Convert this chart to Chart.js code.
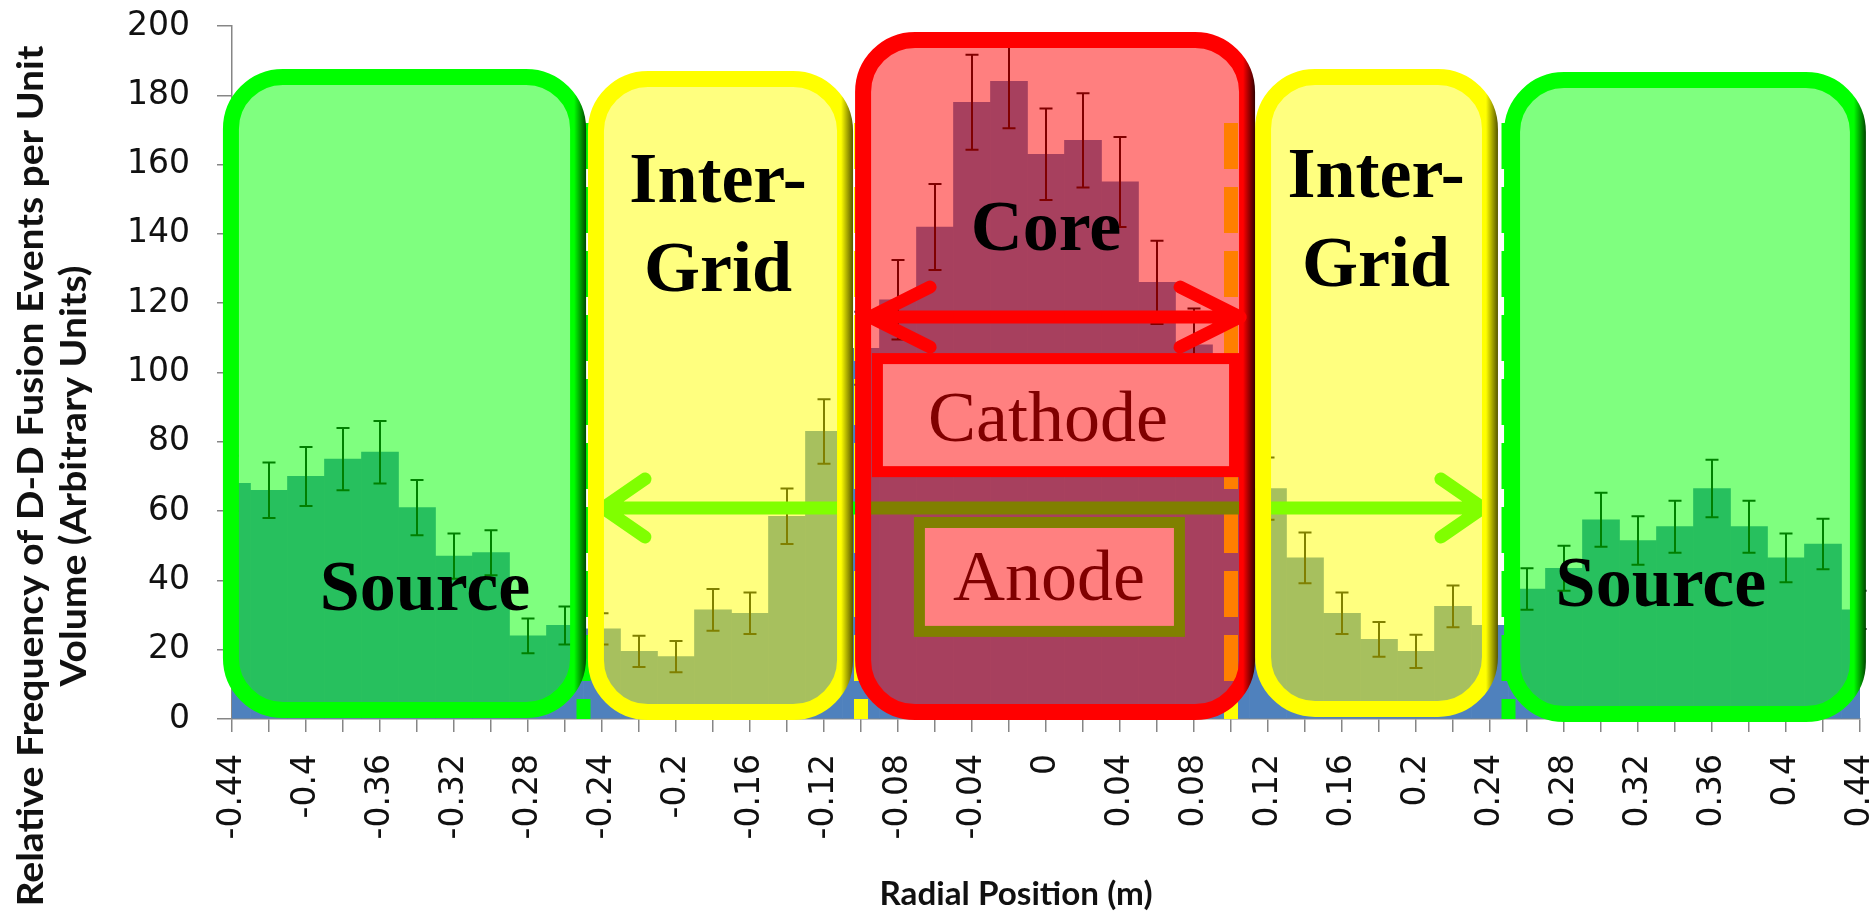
<!DOCTYPE html>
<html>
<head>
<meta charset="utf-8">
<script src="https://cdn.jsdelivr.net/npm/chart.js@4.4.0/dist/chart.umd.min.js"></script>
<style>
html, body { margin: 0; padding: 0; background: #fff; }
</style>
</head>
<body>
<canvas id="chart-area" width="1876" height="913"></canvas>
<script>
// bin centres (m)
var radii = [-0.44, -0.42, -0.40, -0.38, -0.36, -0.34, -0.32, -0.30, -0.28, -0.26,
             -0.24, -0.22, -0.20, -0.18, -0.16, -0.14, -0.12, -0.10, -0.08, -0.06,
             -0.04, -0.02, 0, 0.02, 0.04, 0.06, 0.08, 0.10, 0.12, 0.14,
             0.16, 0.18, 0.20, 0.22, 0.24, 0.26, 0.28, 0.30, 0.32, 0.34,
             0.36, 0.38, 0.40, 0.42, 0.44];
// relative frequency per bin
var counts = [68, 66, 70, 75, 77, 61, 47, 48, 24, 27,
              26, 19.5, 18, 31.5, 30.5, 58.5, 83, 107, 121, 142,
              178, 184, 163, 167, 155, 126, 108, 90, 66.5, 46.5,
              30.5, 23, 19.5, 32.5, 27, 37.5, 43.5, 57.5, 51.5, 55.5,
              66.5, 55.5, 46.5, 50.5, 31.5];
// +/- error per bin
var errors = [8, 8, 8.5, 9, 9, 8, 6.5, 6.5, 5, 5.5,
              4.5, 4.5, 4.5, 6, 6, 8, 9.3, 10.5, 11.5, 12.4,
              13.7, 13.5, 13.2, 13.6, 13, 12, 10.5, 9.5, 9, 7.3,
              6, 5, 4.8, 6, 5, 6, 6.5, 7.8, 7, 7.5,
              8.3, 7.5, 7, 7.3, 5.5];
var yMin = 0, yMax = 200, yStep = 20;

// dashed grid radius markers
var markerRadii = [-0.25, -0.10, 0.10, 0.25];
var markerColors = ['#00ff00', '#ffff00', '#ffff00', '#00ff00'];
var markerTop = 172;

// region overlays, in data units
var zones = [
    {x: [-0.4449, -0.2486], y: [0.3, 187.6], fill: 'rgba(0,255,0,0.5)', edge: '#00ff00', shade: '#004400'},
    {x: [0.2476, 0.4432], y: [-0.9, 186.7], fill: 'rgba(0,255,0,0.5)', edge: '#00ff00', shade: '#004400'},
    {x: [-0.2476, -0.1043], y: [-0.3, 187.0], fill: 'rgba(255,255,0,0.5)', edge: '#ffff00', shade: '#555500'},
    {x: [0.1130, 0.2443], y: [0.6, 187.6], fill: 'rgba(255,255,0,0.5)', edge: '#ffff00', shade: '#555500'},
    {x: [-0.1032, 0.1130], y: [-0.3, 198.3], fill: 'rgba(255,0,0,0.5)', edge: '#ff0000', shade: '#330000'}
];
var gridArrow = {x: [-0.2395, 0.2362], y: 60.9, color: '#00ff00', head: [42, 29]};
var cathodeArrow = {x: [-0.0951, 0.1049], y: 116.0, color: '#ff0000', head: [60, 30]};
var plates = [
    {text: 'Cathode', x: [-0.0941, 0.1049], y: [69.8, 105.6], edge: '#ff0000', tx: 0.0011, ty: 80.2},
    {text: 'Anode', x: [-0.0714, 0.0751], y: [23.7, 58.3], edge: '#808000', tx: 0.0016, ty: 34.3}
];
var regionLabels = [
    {lines: ['Source'], x: -0.3357, y: 31.5},
    {lines: ['Source'], x: 0.3324, y: 32.6},
    {lines: ['Inter-', 'Grid'], x: -0.1773, y: 149.2},
    {lines: ['Inter-', 'Grid'], x: 0.1784, y: 150.6},
    {lines: ['Core'], x: 0, y: 135.4}
];
var yTitle = ['Relative Frequency of D-D Fusion Events per Unit', 'Volume (Arbitrary Units)'];
var xTitle = 'Radial Position (m)';

var fmt = function (v) {
    return String(parseFloat(v.toFixed(2)));
};

var roundRect = function (ctx, x0, y0, x1, y1, r) {
    ctx.beginPath();
    ctx.moveTo(x0 + r, y0);
    ctx.arcTo(x1, y0, x1, y1, r);
    ctx.arcTo(x1, y1, x0, y1, r);
    ctx.arcTo(x0, y1, x0, y0, r);
    ctx.arcTo(x0, y0, x1, y0, r);
    ctx.closePath();
};

var edgeGradient = function (ctx, x0, x1, edge, shade, band) {
    var g = ctx.createLinearGradient(x0, 0, x1, 0);
    g.addColorStop(0, edge);
    g.addColorStop(Math.max(0, 1 - band / (x1 - x0)), edge);
    g.addColorStop(1, shade);
    return g;
};

var drawArrow = function (ctx, a, xs, ys) {
    var xl = xs.getPixelForValue(a.x[0]), xr = xs.getPixelForValue(a.x[1]);
    var y = ys.getPixelForValue(a.y);
    ctx.save();
    ctx.strokeStyle = a.color;
    ctx.lineWidth = 13;
    ctx.lineCap = 'round';
    ctx.lineJoin = 'round';
    ctx.beginPath();
    ctx.moveTo(xl, y); ctx.lineTo(xr, y);
    ctx.moveTo(xl + a.head[0], y - a.head[1]); ctx.lineTo(xl, y); ctx.lineTo(xl + a.head[0], y + a.head[1]);
    ctx.moveTo(xr - a.head[0], y - a.head[1]); ctx.lineTo(xr, y); ctx.lineTo(xr - a.head[0], y + a.head[1]);
    ctx.stroke();
    ctx.restore();
};

var errorBars = {
    id: 'errorBars',
    afterDatasetsDraw: function (chart) {
        var ctx = chart.ctx, ys = chart.scales.y;
        var bars = chart.getDatasetMeta(0).data;
        ctx.save();
        ctx.strokeStyle = '#000';
        ctx.lineWidth = 2;
        bars.forEach(function (bar, i) {
            var x = bar.x;
            var top = ys.getPixelForValue(counts[i] + errors[i]);
            var bot = ys.getPixelForValue(counts[i] - errors[i]);
            ctx.beginPath();
            ctx.moveTo(x, top); ctx.lineTo(x, bot);
            ctx.moveTo(x - 6.5, top); ctx.lineTo(x + 6.5, top);
            ctx.moveTo(x - 6.5, bot); ctx.lineTo(x + 6.5, bot);
            ctx.stroke();
        });
        ctx.restore();
    }
};

var overlays = {
    id: 'overlays',
    afterDraw: function (chart) {
        var ctx = chart.ctx, xs = chart.scales.x, ys = chart.scales.y;

        drawArrow(ctx, gridArrow, xs, ys);

        zones.forEach(function (z) {
            var x0 = xs.getPixelForValue(z.x[0]), x1 = xs.getPixelForValue(z.x[1]);
            var y0 = ys.getPixelForValue(z.y[1]), y1 = ys.getPixelForValue(z.y[0]);
            ctx.save();
            roundRect(ctx, x0 + 8, y0 + 8, x1 - 8, y1 - 8, 52);
            ctx.fillStyle = z.fill;
            ctx.fill();
            ctx.lineWidth = 16;
            ctx.strokeStyle = edgeGradient(ctx, x0, x1, z.edge, z.shade, 12);
            ctx.stroke();
            ctx.restore();
        });

        drawArrow(ctx, cathodeArrow, xs, ys);

        plates.forEach(function (p) {
            var x0 = xs.getPixelForValue(p.x[0]), x1 = xs.getPixelForValue(p.x[1]);
            var y0 = ys.getPixelForValue(p.y[1]), y1 = ys.getPixelForValue(p.y[0]);
            ctx.save();
            ctx.fillStyle = '#ff8080';
            ctx.fillRect(x0 + 5, y0 + 5, x1 - x0 - 10, y1 - y0 - 10);
            ctx.lineWidth = 11;
            ctx.strokeStyle = p.edge;
            ctx.strokeRect(x0 + 5.5, y0 + 5.5, x1 - x0 - 11, y1 - y0 - 11);
            ctx.font = '72px "Liberation Serif"';
            ctx.fillStyle = '#800000';
            ctx.textAlign = 'center';
            ctx.textBaseline = 'alphabetic';
            ctx.fillText(p.text, xs.getPixelForValue(p.tx), ys.getPixelForValue(p.ty));
            ctx.restore();
        });

        ctx.save();
        ctx.font = 'bold 72px "Liberation Serif"';
        ctx.fillStyle = '#000';
        ctx.textAlign = 'center';
        ctx.textBaseline = 'alphabetic';
        regionLabels.forEach(function (l) {
            var x = xs.getPixelForValue(l.x), y = ys.getPixelForValue(l.y);
            l.lines.forEach(function (t, k) {
                ctx.fillText(t, x, y + k * 89);
            });
        });
        ctx.restore();

        // axis titles
        ctx.save();
        ctx.fillStyle = '#111';
        ctx.textAlign = 'center';
        ctx.textBaseline = 'middle';
        ctx.font = 'bold 36px Lato';
        var k = 861 / ctx.measureText(yTitle[0]).width;
        ctx.translate(31, 476);
        ctx.rotate(-Math.PI / 2);
        ctx.scale(k, 1);
        ctx.fillText(yTitle[0], 0, 0);
        ctx.fillText(yTitle[1], 0, 43);
        ctx.restore();

        ctx.save();
        ctx.fillStyle = '#111';
        ctx.textAlign = 'center';
        ctx.textBaseline = 'alphabetic';
        ctx.font = 'bold 32px Lato';
        var kx = 273 / ctx.measureText(xTitle).width;
        ctx.translate(1016, 905);
        ctx.scale(kx, 1);
        ctx.fillText(xTitle, 0, 0);
        ctx.restore();
    }
};

var markerSets = markerRadii.map(function (r, i) {
    return {
        type: 'line',
        data: [{x: r, y: markerTop}, {x: r, y: 0}],
        borderColor: markerColors[i],
        borderWidth: 14,
        borderDash: [46, 18],
        borderCapStyle: 'butt',
        pointRadius: 0,
        fill: false,
        order: 1
    };
});

window.chart = new Chart('chart-area', {
    type: 'bar',
    data: {
        datasets: [{
            type: 'bar',
            data: radii.map(function (r, i) { return {x: r, y: counts[i]}; }),
            backgroundColor: '#4f81bd',
            barPercentage: 1,
            categoryPercentage: 1,
            grouped: false,
            order: 2
        }].concat(markerSets)
    },
    options: {
        responsive: false,
        animation: false,
        devicePixelRatio: 1,
        layout: {padding: {left: 0, top: 26, right: 16, bottom: 0}},
        plugins: {legend: {display: false}, tooltip: {enabled: false}},
        scales: {
            x: {
                type: 'linear',
                min: radii[0],
                max: radii[radii.length - 1],
                offset: false,
                grid: {drawOnChartArea: false, offset: false, tickLength: 13, color: '#868686', lineWidth: 1.5},
                border: {color: '#868686', width: 1.5},
                afterBuildTicks: function (s) {
                    s.ticks = radii.map(function (v) { return {value: v}; });
                },
                ticks: {
                    autoSkip: false, minRotation: 90, maxRotation: 90, padding: 22,
                    color: '#111', font: {family: 'DejaVu Sans', size: 33},
                    callback: function (v, i) { return i % 2 === 0 ? fmt(v) : ''; }
                },
                afterFit: function (s) { s.height = 194; s.paddingLeft = 0; s.paddingRight = 0; }
            },
            y: {
                min: yMin, max: yMax,
                grid: {drawOnChartArea: false, tickLength: 15, color: '#868686', lineWidth: 1.5},
                border: {color: '#868686', width: 1.5},
                ticks: {stepSize: yStep, padding: 27, color: '#111', font: {family: 'DejaVu Sans', size: 33}},
                afterFit: function (s) { s.width = 232; s.paddingTop = 0; s.paddingBottom = 0; }
            }
        }
    },
    plugins: [errorBars, overlays]
});
</script>
</body>
</html>
